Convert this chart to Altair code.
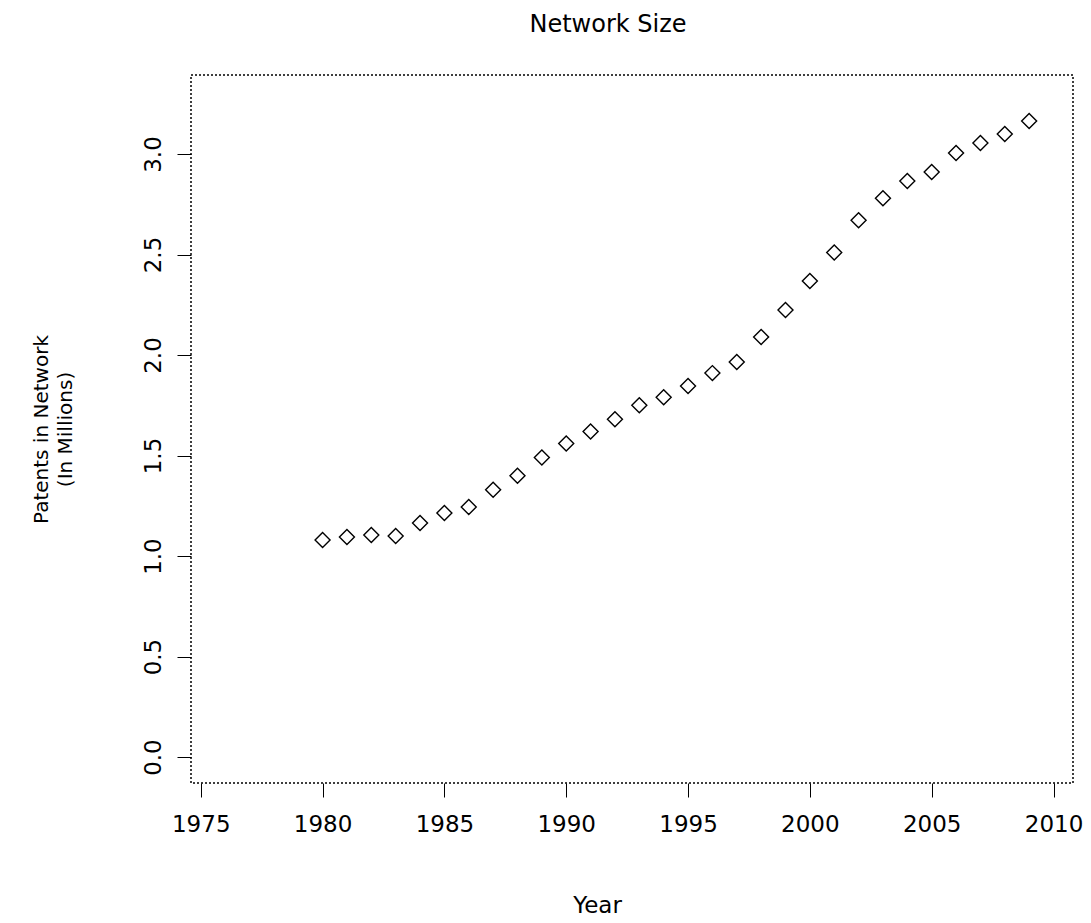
import altair as alt
import pandas as pd

years = list(range(1980, 2010))
patents_millions = [
    1.08, 1.095, 1.105, 1.10, 1.164, 1.214, 1.244, 1.33, 1.40, 1.49,
    1.56, 1.62, 1.68, 1.75, 1.79, 1.846, 1.91, 1.965, 2.09, 2.224,
    2.368, 2.51, 2.67, 2.78, 2.866, 2.91, 3.005, 3.055, 3.10, 3.164,
]
x_ticks = [1975, 1980, 1985, 1990, 1995, 2000, 2005, 2010]
y_ticks = [0.0, 0.5, 1.0, 1.5, 2.0, 2.5, 3.0]

df = pd.DataFrame({"Year": years, "Patents": patents_millions})

FONT = "DejaVu Sans"

chart = (
    alt.Chart(df)
    .mark_point(shape="diamond", filled=False, color="black", size=225, strokeWidth=1.4, opacity=1)
    .encode(
        x=alt.X(
            "Year:Q",
            scale=alt.Scale(domain=[1974.6, 2010.8], nice=False, zero=False),
            axis=alt.Axis(
                values=x_ticks, format="d", title="Year", grid=False, domain=False,
                tickSize=14, tickColor="black", labelPadding=16, labelFontSize=23,
                labelFont=FONT, labelColor="black", titleFont=FONT, titleFontSize=23,
                titleFontWeight="normal", titleColor="black", titleX=406, titleY=122,
                titleBaseline="middle", labelFlush=False, labelOverlap=False,
            ),
        ),
        y=alt.Y(
            "Patents:Q",
            scale=alt.Scale(domain=[-0.129, 3.393], nice=False, zero=False),
            axis=alt.Axis(
                values=y_ticks, format=".1f", title=["Patents in Network", "(In Millions)"],
                grid=False, domain=False, tickSize=14, tickColor="black", labelPadding=12,
                labelAngle=270, labelFontSize=23, labelFont=FONT, labelColor="black",
                titleFont=FONT, titleFontSize=20, titleFontWeight="normal", titleColor="black",
                titleLineHeight=24, labelFlush=False, labelOverlap=False,
                titleX=-140, titleY=354, titleAlign="center",
            ),
        ),
    )
    .properties(
        width=882,
        height=708,
        title=alt.TitleParams("Network Size", font=FONT, fontSize=24, fontWeight="normal",
                              color="black", offset=38, dx=-24),
        autosize=alt.AutoSizeParams(type="none"),
        padding={"left": 183, "top": 67, "right": 10, "bottom": 140},
        background="white",
    )
    .configure_view(stroke="black", strokeWidth=1.5, strokeDash=[2, 2])
)

chart.save("out.html", embed_options={"renderer": "svg", "actions": False})
